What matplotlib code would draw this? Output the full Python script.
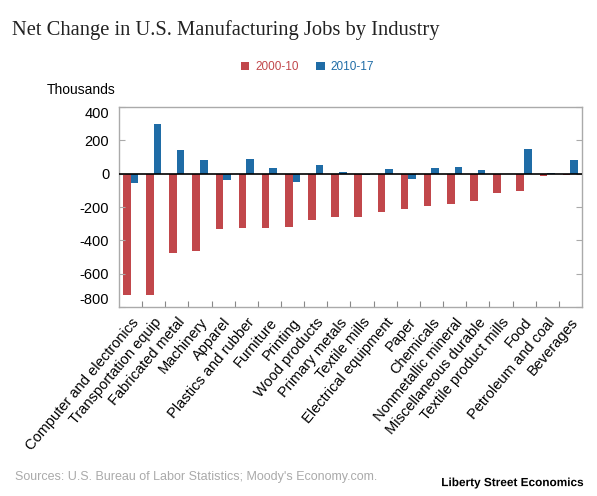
import numpy as np
import matplotlib
matplotlib.use("Agg")
import matplotlib.pyplot as plt
import matplotlib.patheffects as pe

# Данные (тыс. рабочих мест)
industries = [
    "Computer and electronics", "Transportation equip", "Fabricated metal",
    "Machinery", "Apparel", "Plastics and rubber", "Furniture", "Printing",
    "Wood products", "Primary metals", "Textile mills", "Electrical equipment",
    "Paper", "Chemicals", "Nonmetallic mineral", "Miscellaneous durable",
    "Textile product mills", "Food", "Petroleum and coal", "Beverages",
]
change_2000_10 = [-726, -726, -474, -462, -330, -326, -326, -320, -276, -260,
                  -260, -232, -212, -196, -184, -164, -114, -102, -12, -10]
change_2010_17 = [-54, 296, 144, 80, -40, 88, 34, -50, 52, 12,
                  -8, 26, -30, 32, 40, 24, -4, 150, 2, 84]
yticks = [400, 200, 0, -200, -400, -600, -800]

RED = "#c1474b"
BLUE = "#1f6ca6"

plt.rcParams['font.family'] = ['Liberation Sans', 'DejaVu Sans']

fig = plt.figure(figsize=(5.97, 4.96), dpi=100)
ax = fig.add_axes([0.1993, 0.381, 0.7755, 0.4033])

x = np.arange(len(industries))
w = 0.33
b1 = ax.bar(x - w / 2, change_2000_10, width=w, color=RED, label="2000-10")
b2 = ax.bar(x + w / 2, change_2010_17, width=w, color=BLUE, label="2010-17")

ax.axhline(0, color="black", lw=1.2, zorder=3)
ax.set_xlim(-0.5, len(industries) - 0.5)
ax.set_ylim(-800, 400)
ax.set_yticks(yticks)
ax.set_yticklabels([str(v) for v in yticks], fontsize=10.5)
ax.tick_params(axis="y", direction="in", length=4, color="#aaaaaa", pad=7,
               right=True)
# крайние подписи сдвинуты внутрь, как в оригинале
ylabels = ax.get_yticklabels()
ylabels[0].set_va("top")
ylabels[-1].set_va("bottom")

# тики по границам категорий
ax.set_xticks(np.arange(len(industries) - 1) + 0.5)
ax.set_xticklabels([])
ax.tick_params(axis="x", direction="in", length=4, color="#888888")
ax.set_xticks(x, minor=True)
ax.set_xticklabels(industries, minor=True, rotation=50, ha="right",
                   rotation_mode="anchor", fontsize=10.5)
ax.tick_params(axis="x", which="minor", length=0, pad=6)

for s in ax.spines.values():
    s.set_color("#aaaaaa")
    s.set_linewidth(1.0)

fig.text(0.02, 0.94, "Net Change in U.S. Manufacturing Jobs by Industry",
         family="Liberation Serif", fontsize=14.8, color="#222222", va="center")
fig.text(0.079, 0.818, "Thousands", fontsize=10, va="center")

leg = fig.legend(handles=[b1, b2], loc="center", bbox_to_anchor=(0.515, 0.865),
                 ncol=2, frameon=False, fontsize=8.5, handlelength=0.7,
                 handleheight=0.7, handletextpad=0.5, columnspacing=1.5)
for txt, c in zip(leg.get_texts(), [RED, BLUE]):
    txt.set_color(c)

fig.text(0.025, 0.038, "Sources: U.S. Bureau of Labor Statistics; Moody's Economy.com.",
         fontsize=9, color="#aaaaaa", va="center")
fig.text(0.977, 0.026, "Liberty Street Economics", fontsize=8.5, fontweight="bold",
         ha="right", va="center",
         path_effects=[pe.withStroke(linewidth=2.5, foreground="white")])

fig.savefig("out.png", dpi=100)
